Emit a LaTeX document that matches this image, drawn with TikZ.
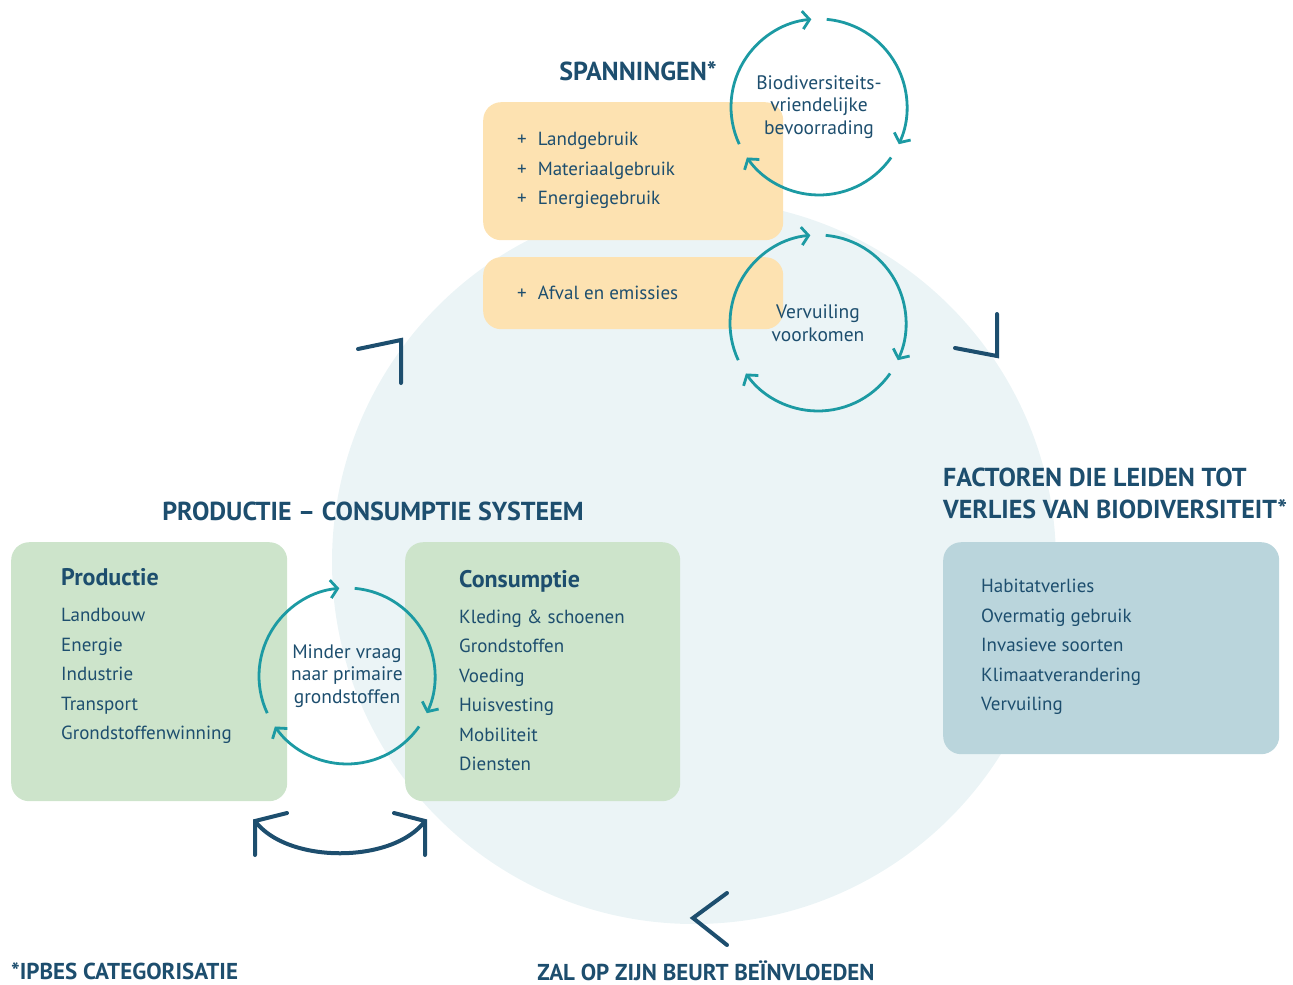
\documentclass[tikz,border=0pt]{standalone}
\usepackage{fontspec}
\setmainfont{PT Sans}
\usetikzlibrary{arrows.meta,calc}
\definecolor{navy}{HTML}{1D4E6E}
\definecolor{teal}{HTML}{1C9AA3}
\definecolor{peach}{HTML}{FDE2B1}
\definecolor{sage}{HTML}{CDE4CB}
\definecolor{steel}{HTML}{BAD5DC}
\definecolor{haze}{HTML}{EBF4F6}
\tikzset{
  box/.style={rounded corners=18pt, inner sep=0pt, anchor=north west},
  title/.style={text=navy, font=\bfseries\fontsize{26}{32}\selectfont, inner sep=0pt},
  foot/.style={text=navy, font=\bfseries\fontsize{23}{28}\selectfont, inner sep=0pt},
  list/.style={text=navy, font=\fontsize{19}{29.5}\selectfont, align=left, anchor=west, inner sep=0pt},
  cyctext/.style={text=navy, font=\fontsize{19.5}{22.5}\selectfont, align=center, inner sep=0pt},
  cyc/.style={draw=teal, line width=2.8pt, -{Straight Barb[length=7pt,width=18pt]}},
  chev/.style={draw=navy, line width=4pt, line cap=round}
}
\newcommand{\turnloop}[1]{%
  \foreach \a in {85,-35,-155}
    \draw[cyc] ($(#1)+(\a:88)$) arc[start angle=\a, end angle=\a-110, radius=88];}
\begin{document}
\begin{tikzpicture}[x=1pt,y=1pt]
  \useasboundingbox (0,0) rectangle (1293,-985);
  \fill[haze] (694,-562) circle (362);

  \node[box, fill=peach, minimum width=300pt, minimum height=138pt] (pressures) at (483,-102) {};
  \node[box, fill=peach, minimum width=300pt, minimum height=72pt] (waste) at (483,-257) {};
  \node[box, fill=sage, minimum width=276pt, minimum height=259pt] (prod) at (11,-542) {};
  \node[box, fill=sage, minimum width=275pt, minimum height=259pt] (cons) at (405,-542) {};
  \node[box, fill=steel, minimum width=336pt, minimum height=212pt] (drivers) at (943,-542) {};

  \node[title] (ptitle) at (638,-71) {SPANNINGEN*};
  \node[list] (plist) at (517,-170.5) {+\hspace{11pt}Landgebruik\\+\hspace{11pt}Materiaalgebruik\\+\hspace{11pt}Energiegebruik};
  \node[list] (wlist) at (517,-293) {+\hspace{11pt}Afval en emissies};

  \node[title] (pctitle) at (373,-511) {PRODUCTIE -- CONSUMPTIE SYSTEEM};
  \node[list] (prodlist) at (61,-656) {{\bfseries\fontsize{24}{29.5}\selectfont Productie}\\[6.5pt]Landbouw\\Energie\\Industrie\\Transport\\Grondstoffenwinning};
  \node[list] (conslist) at (459,-670.5) {{\bfseries\fontsize{24}{29.5}\selectfont Consumptie}\\[6.5pt]Kleding \& schoenen\\Grondstoffen\\Voeding\\Huisvesting\\Mobiliteit\\Diensten};

  \node[title, align=left, anchor=west] (dtitle) at (943,-493) {FACTOREN DIE LEIDEN TOT\\VERLIES VAN BIODIVERSITEIT*};
  \node[list] (dlist) at (981,-647) {Habitatverlies\\Overmatig gebruik\\Invasieve soorten\\Klimaatverandering\\Vervuiling};

  \node[cyctext] (supply) at (819,-107) {Biodiversiteits-\\vriendelijke\\bevoorrading};
  \node[cyctext] (clean) at (818,-323) {Vervuiling\\voorkomen};
  \node[cyctext] (demand) at (347,-676) {Minder vraag\\naar primaire\\grondstoffen};
  \turnloop{supply}
  \turnloop{clean}
  \turnloop{demand}

  \draw[chev] (358,-349) -- (401,-340) -- (401,-383);
  \draw[chev] (955,-348) -- (997,-356) -- (997,-314);
  \draw[chev] (727,-893) -- (693,-918) -- (727,-945);
  \draw[chev] (255,-855) -- (255,-821) -- (287,-813);
  \draw[chev] (394,-813) -- (425,-821) -- (425,-855);
  \draw[chev] (255,-821) .. controls (287,-864) and (393,-864) .. (425,-821);

  \node[foot, anchor=west] (note) at (11,-971) {*IPBES CATEGORISATIE};
  \node[foot] (impact) at (706,-971) {ZAL OP ZIJN BEURT BEÏNVLOEDEN};
\end{tikzpicture}
\end{document}
